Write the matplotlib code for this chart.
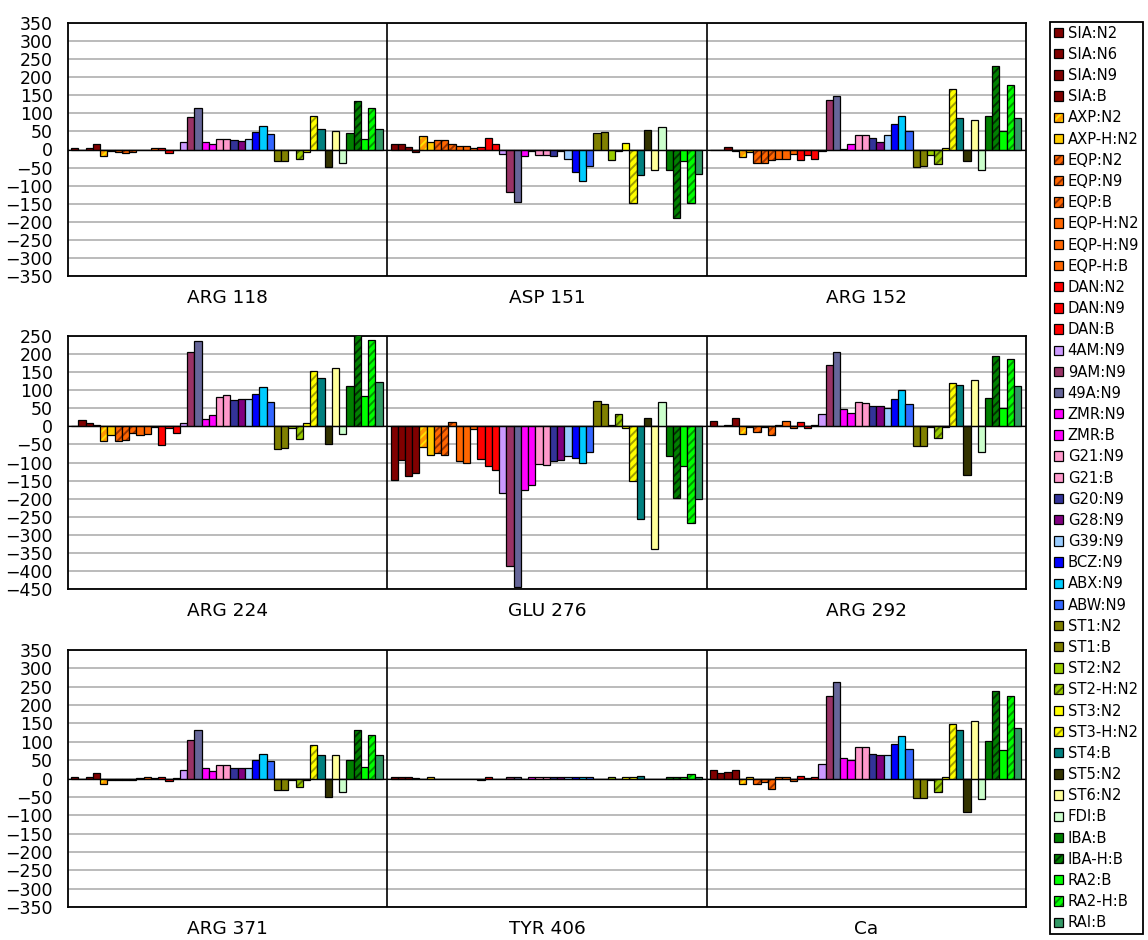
import numpy as np
import matplotlib.pyplot as plt
from matplotlib.patches import Patch
from matplotlib.legend_handler import HandlerTuple

series = ['SIA:N2', 'SIA:N6', 'SIA:N9', 'SIA:B', 'AXP:N2', 'AXP-H:N2',
          'EQP:N2', 'EQP:N9', 'EQP:B', 'EQP-H:N2', 'EQP-H:N9', 'EQP-H:B',
          'DAN:N2', 'DAN:N9', 'DAN:B', '4AM:N9', '9AM:N9', '49A:N9',
          'ZMR:N9', 'ZMR:B', 'G21:N9', 'G21:B', 'G20:N9', 'G28:N9', 'G39:N9',
          'BCZ:N9', 'ABX:N9', 'ABW:N9', 'ST1:N2', 'ST1:B', 'ST2:N2',
          'ST2-H:N2', 'ST3:N2', 'ST3-H:N2', 'ST4:B', 'ST5:N2', 'ST6:N2',
          'FDI:B', 'IBA:B', 'IBA-H:B', 'RA2:B', 'RA2-H:B', 'RAI:B']

face_colors = ['#800000', '#800000', '#800000', '#800000', '#FF9900', '#FFCC00',
               '#FF6600', '#FF6600', '#FF6600', '#FF6600', '#FF6600', '#FF6600',
               '#FF0000', '#FF0000', '#FF0000', '#CC99FF', '#993366', '#666699',
               '#FF00FF', '#FF00FF', '#FF99CC', '#FF99CC', '#333399', '#800080', '#99CCFF',
               '#0000FF', '#00CCFF', '#3366FF', '#808000', '#808000', '#99CC00',
               '#99CC00', '#FFFF00', '#FFFF00', '#008080', '#333300', '#FFFF99',
               '#CCFFCC', '#008000', '#008000', '#00FF00', '#00FF00', '#339966']

# stripe colour for the hatched series, None = plain fill
hatch_colors = [None, None, None, None, '#FFE000', None,
                '#993300', '#993300', '#993300', None, None, None,
                None, None, None, None, None, None,
                None, None, None, None, None, None, None,
                None, None, None, None, None, None,
                '#556B00', None, '#A0A000', None, None, None,
                None, None, '#003300', None, '#009900', None]

arg118 = [4, 0, 3, 15, -18, -5, -7, -10, -7, 0, 0, 3, 3, -10, -2, 20, 90, 115,
          22, 15, 30, 30, 27, 23, 28, 48, 65, 42, -32, -32, 0, -25, -8, 92, 57,
          -48, 52, -37, 45, 133, 28, 115, 58]
asp151 = [14, 14, 6, -8, 36, 22, 25, 25, 16, 10, 10, 5, 8, 33, 14, -12, -118, -145,
          -18, -5, -15, -15, -18, -5, -25, -62, -87, -47, 45, 48, -30, -5, 18, -148,
          -70, 55, -58, 63, -58, -190, -32, -148, -67]
arg152 = [0, 0, 6, -5, -22, -8, -37, -37, -28, -25, -25, -12, -28, -15, -27, -3, 138, 148,
          2, 15, 40, 40, 33, 20, 40, 70, 92, 50, -48, -45, -15, -40, 5, 167, 87,
          -32, 82, -57, 92, 232, 52, 178, 87]

arg224 = [0, 18, 10, 3, -40, -23, -40, -38, -18, -23, -20, -2, -52, -5, -17, 8, 207, 235,
          20, 32, 82, 87, 72, 75, 75, 90, 110, 68, -62, -60, -5, -35, 8, 152, 135,
          -50, 162, -22, 112, 258, 83, 240, 122]
glu276 = [-148, -92, -137, -130, -58, -78, -73, -78, 12, -95, -100, -8, -90, -110, -122,
          -185, -385, -445, -175, -162, -103, -107, -97, -92, -82, -88, -100, -72, 70, 63,
          5, 33, -5, -150, -255, 22, -340, 67, -82, -198, -110, -268, -200]
arg292 = [14, 0, 3, 22, -20, -3, -15, -3, -25, 3, 15, -5, 12, -5, 3, 35, 170, 207,
          48, 38, 67, 65, 55, 55, 50, 75, 100, 62, -55, -53, -3, -32, -3, 120, 115,
          -135, 128, -72, 78, 195, 52, 185, 113]

arg371 = [5, 0, 3, 15, -15, -3, -5, -3, -5, 2, 4, 2, 3, -7, 2, 24, 106, 132,
          28, 20, 37, 37, 28, 28, 28, 50, 68, 47, -30, -30, -3, -22, -5, 90, 65,
          -50, 63, -37, 50, 133, 30, 118, 63]
tyr406 = [4, 4, 4, 2, 0, 3, 0, 0, 0, 0, 0, 0, -5, 3, 0, 0, 4, 4,
          0, 3, 4, 4, 4, 4, 4, 4, 3, 3, 0, 0, 3, 0, 3, 5, 7,
          0, 0, 0, 4, 5, 4, 12, 4]
ca = [22, 15, 19, 22, -15, 3, -15, -10, -28, 4, 4, -8, 7, 2, 4, 40, 225, 262,
      55, 50, 85, 85, 67, 63, 63, 93, 117, 80, -52, -52, -5, -37, 3, 148, 133,
      -92, 157, -57, 103, 238, 78, 225, 138]

rows = [
    (['ARG 118', 'ASP 151', 'ARG 152'], [arg118, asp151, arg152], (-350, 350)),
    (['ARG 224', 'GLU 276', 'ARG 292'], [arg224, glu276, arg292], (-450, 250)),
    (['ARG 371', 'TYR 406', 'Ca'], [arg371, tyr406, ca], (-350, 350)),
]

plt.rcParams['hatch.linewidth'] = 1.4

W, H = 1148, 940
fig = plt.figure(figsize=(W / 100, H / 100), dpi=100)

# pixel extents (top, bottom) of the three plot areas
boxes = [(23, 276), (336, 589), (650, 907)]
left, right = 68, 1026

n = len(series)
bw = 0.975 / n
base = np.arange(3) - 0.5 + 0.01

for (top, bottom), cats, panels, (ylo, yhi) in zip(boxes, *zip(*rows)):
    ax = fig.add_axes([left / W, 1 - bottom / H, (right - left) / W, (bottom - top) / H])
    for i in range(n):
        vals = [p[i] for p in panels]
        x = base + (i + 0.5) * bw
        if hatch_colors[i]:
            ax.bar(x, vals, bw, color=face_colors[i], edgecolor=hatch_colors[i],
                   hatch='////', linewidth=0, zorder=3)
            ax.bar(x, vals, bw, fill=False, edgecolor='black', linewidth=0.9, zorder=3)
        else:
            ax.bar(x, vals, bw, color=face_colors[i], edgecolor='black',
                   linewidth=0.9, zorder=3)
    ax.set_xlim(-0.5, 2.5)
    ax.set_ylim(ylo, yhi)
    ax.set_yticks(np.arange(ylo, yhi + 1, 50))
    ax.yaxis.grid(True, color='#a8a8a8', linewidth=1.1)
    ax.set_axisbelow(True)
    ax.axhline(0, color='black', linewidth=0.9, zorder=4)
    for xv in (0.5, 1.5):
        ax.axvline(xv, color='black', linewidth=1.2, zorder=5)
    ax.set_xticks(range(3))
    ax.set_xticklabels(cats)
    ax.tick_params(length=0)
    ax.tick_params(axis='x', pad=9.5, labelsize=13.3)
    ax.tick_params(axis='y', pad=11, labelsize=12.5)
    for sp in ax.spines.values():
        sp.set_linewidth(1.3)

handles = []
for face, hc in zip(face_colors, hatch_colors):
    if hc:
        handles.append((Patch(facecolor=face, edgecolor=hc, hatch='////', linewidth=0),
                        Patch(fill=False, edgecolor='black', linewidth=0.9)))
    else:
        handles.append(Patch(facecolor=face, edgecolor='black', linewidth=0.9))

leg = fig.legend(handles, series, loc='upper left',
                 bbox_to_anchor=(1050 / W, 1 - 22 / H), bbox_transform=fig.transFigure,
                 borderaxespad=0, fontsize=10.6, handlelength=0.6, handleheight=0.6,
                 handletextpad=0.35, labelspacing=0.42, borderpad=0.25,
                 fancybox=False, edgecolor='black', framealpha=1,
                 handler_map={tuple: HandlerTuple(ndivide=1, pad=0)})
leg.get_frame().set_linewidth(1.3)

fig.savefig('out.png', dpi=100, facecolor='white')
